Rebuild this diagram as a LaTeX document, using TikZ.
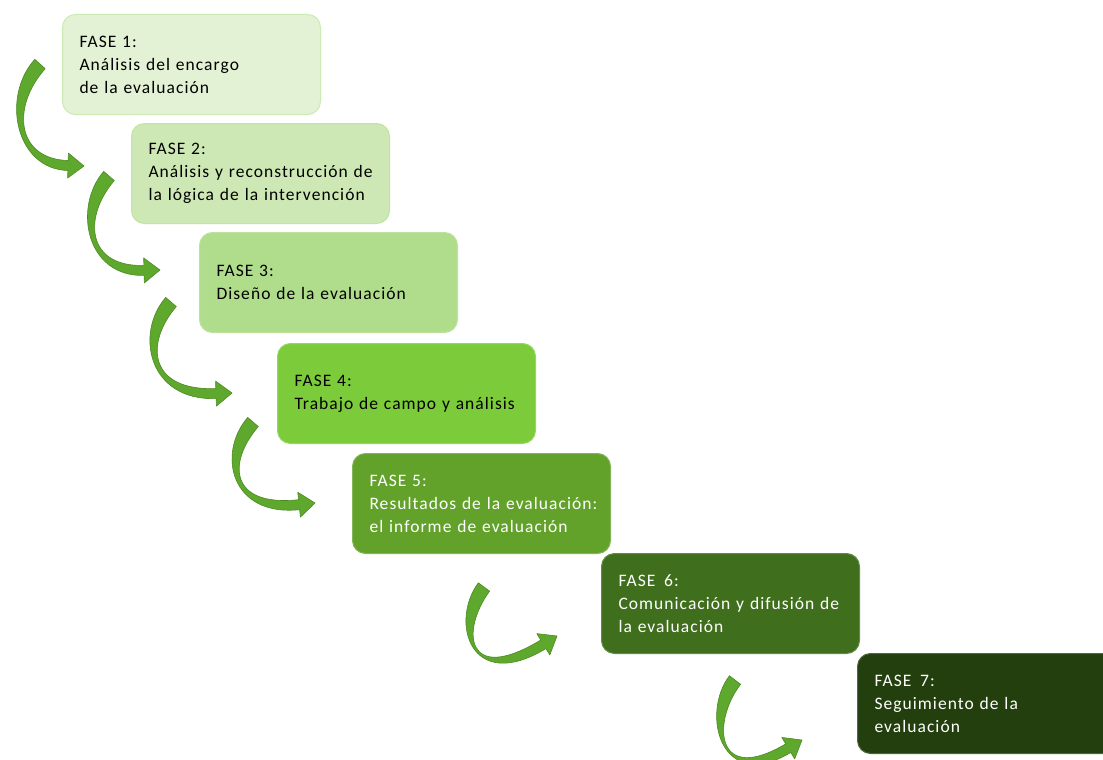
\documentclass[tikz,border=0pt]{standalone}
\usepackage{fontspec}
\setmainfont{Carlito}[LetterSpace=6]
\usetikzlibrary{calc}
\definecolor{fa}{HTML}{E3F1D5}
\definecolor{fb}{HTML}{CDE8B4}
\definecolor{fc}{HTML}{B0DD8C}
\definecolor{fd}{HTML}{7CCB3A}
\definecolor{fe}{HTML}{62A22B}
\definecolor{ff}{HTML}{3F6E1C}
\definecolor{fg}{HTML}{243F0E}
\definecolor{arrowc}{HTML}{5FA82E}
\definecolor{arrowd}{HTML}{4C8A20}
\tikzset{
  phasebox/.style={rounded corners=13pt, anchor=north west, minimum width=258pt,
    minimum height=100pt, inner xsep=17pt, text width=224pt, align=left,
    line width=1pt, font={\fontsize{17.5}{23}\selectfont}},
  greenarrow/.style={fill=arrowc, draw=arrowd, line width=0.6pt, line join=round}
}
\newcommand\boxline[1]{\mbox{#1}}
% #1 name, #2 tail, #3 control 1, #4 control 2, #5 tip
\newcommand\garrow[5]{%
  \coordinate (#1t) at #2;
  \coordinate (#1a) at #3;
  \coordinate (#1b) at #4;
  \coordinate (#1h) at #5;
  \coordinate (#1e) at ($(#1h)!16pt!(#1b)$);
  \coordinate (#1t1) at ($(#1t)!7pt!90:(#1a)$);
  \coordinate (#1t2) at ($(#1t)!7pt!-90:(#1a)$);
  \coordinate (#1a1) at ($(#1a)+(#1t1)-(#1t)$);
  \coordinate (#1a2) at ($(#1a)+(#1t2)-(#1t)$);
  \coordinate (#1e1) at ($(#1e)!5pt!-90:(#1b)$);
  \coordinate (#1e2) at ($(#1e)!5pt!90:(#1b)$);
  \coordinate (#1b1) at ($(#1b)+(#1e1)-(#1e)$);
  \coordinate (#1b2) at ($(#1b)+(#1e2)-(#1e)$);
  \coordinate (#1w1) at ($(#1e)!12.5pt!-90:(#1b)$);
  \coordinate (#1w2) at ($(#1e)!12.5pt!90:(#1b)$);
  \path[greenarrow] (#1t1) .. controls (#1a1) and (#1b1) .. (#1e1) -- (#1w1) -- (#1h)
    -- (#1w2) -- (#1e2) .. controls (#1b2) and (#1a2) .. (#1t2) -- cycle;
}
\begin{document}
\begin{tikzpicture}[x=1pt,y=-1pt]
\clip (0,0) rectangle (1103,760);
\fill[white] (0,0) rectangle (1103,760);

\node[phasebox, fill=fa, draw=fa!80!fd, text=black] (b1) at (62,14)
  {\boxline{FASE 1:}\\\boxline{Análisis del encargo}\\\boxline{de la evaluación}};
\node[phasebox, fill=fb, draw=fb!85!fd, text=black] (b2) at (131,123)
  {\boxline{FASE 2:}\\\boxline{Análisis y reconstrucción de}\\\boxline{la lógica de la intervención}};
\node[phasebox, fill=fc, draw=fc!85!white, text=black] (b3) at (199,232)
  {\boxline{FASE 3:}\\\boxline{Diseño de la evaluación}};
\node[phasebox, fill=fd, draw=fd!80!white, text=black] (b4) at (277,343)
  {\boxline{FASE 4:}\\\boxline{Trabajo de campo y análisis}};
\node[phasebox, fill=fe, draw=fe!80!white, text=white] (b5) at (352,453)
  {\boxline{FASE 5:}\\\boxline{Resultados de la evaluación:}\\\boxline{el informe de evaluación}};
\node[phasebox, fill=ff, draw=ff!80!white, text=white] (b6) at (601,553)
  {\boxline{FASE\ \,6:}\\\boxline{Comunicación y difusión de}\\\boxline{la evaluación}};
\node[phasebox, fill=fg, draw=fg!80!white, text=white] (b7) at (857,653)
  {\boxline{FASE\ \,7:}\\\boxline{Seguimiento de la}\\\boxline{evaluación}};

\garrow{A}{(40,64)}{(6,102)}{(16,164)}{(84,166)}
\garrow{B}{(109,176)}{(78,212)}{(86,272)}{(160,270)}
\garrow{C}{(171,302)}{(140,338)}{(148,396)}{(232,393)}
\garrow{D}{(253,422)}{(222,458)}{(230,512)}{(315,503)}
\garrow{E}{(484,587)}{(455,626)}{(468,690)}{(557,636)}
\garrow{F}{(735,680)}{(706,718)}{(718,790)}{(802,740)}
\end{tikzpicture}
\end{document}
